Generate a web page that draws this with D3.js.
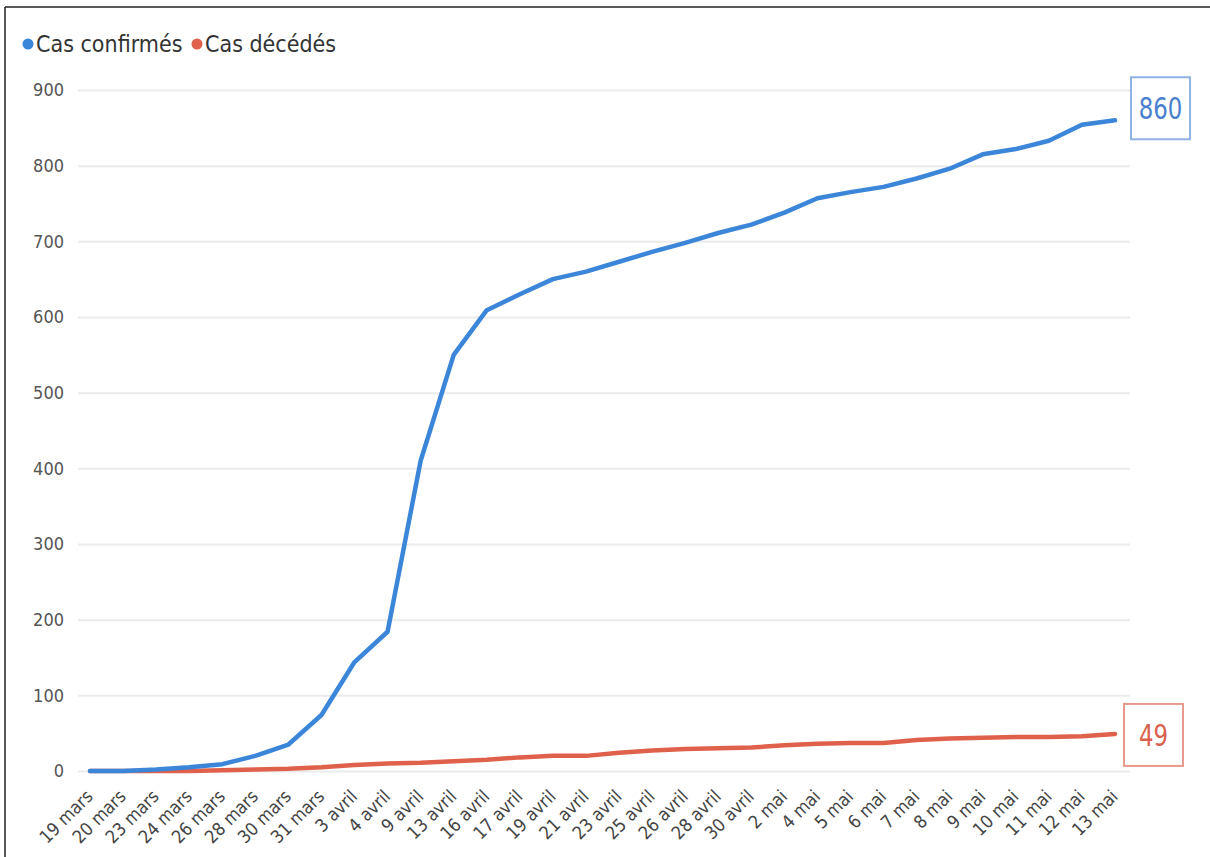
<!DOCTYPE html>
<html>
<head>
<meta charset="utf-8">
<script src="https://cdn.jsdelivr.net/npm/d3@7"></script>
<style>
  body { margin: 0; background: #fff; }
  svg text { font-family: "DejaVu Sans Condensed", "DejaVu Sans", sans-serif; font-stretch: condensed; }
</style>
</head>
<body>
<div id="chart"></div>
<script>
// dates on the x axis
var dates = ["19 mars", "20 mars", "23 mars", "24 mars", "26 mars", "28 mars", "30 mars", "31 mars",
    "3 avril", "4 avril", "9 avril", "13 avril", "16 avril", "17 avril", "19 avril", "21 avril",
    "23 avril", "25 avril", "26 avril", "28 avril", "30 avril", "2 mai", "4 mai", "5 mai",
    "6 mai", "7 mai", "8 mai", "9 mai", "10 mai", "11 mai", "12 mai", "13 mai"];

// cumulative confirmed cases
var confirmes = [0, 0, 2, 5, 9, 20, 35, 74, 144, 184, 410, 550, 609, 630, 650, 660,
    673, 686, 698, 711, 722, 738, 757, 765, 772, 783, 796, 815, 822, 833, 854, 860];

// cumulative deaths
var deces = [0, 0, 0, 0, 1, 2, 3, 5, 8, 10, 11, 13, 15, 18, 20, 20,
    24, 27, 29, 30, 31, 34, 36, 37, 37, 41, 43, 44, 45, 45, 46, 49];

var yTicks = [0, 100, 200, 300, 400, 500, 600, 700, 800, 900];

var W = 1210, H = 857;
var blue = "#3b86d9", red = "#e0614b";

var svg = d3.select("#chart")
    .append("svg")
    .attr("width", W)
    .attr("height", H);

// frame (top and left edges only)
svg.append("line").attr("x1", 5).attr("x2", W).attr("y1", 7).attr("y2", 7)
    .attr("stroke", "#222").attr("stroke-width", 1.5);
svg.append("line").attr("x1", 5).attr("x2", 5).attr("y1", 7).attr("y2", H)
    .attr("stroke", "#222").attr("stroke-width", 1.5);

var x = d3.scalePoint()
    .domain(dates)
    .range([90, 1115]);

var y = d3.scaleLinear()
    .domain([0, 900])
    .range([771, 90]);

// gridlines + y labels
var yAxis = svg.append("g")
    .attr("transform", "translate(78,0)")
    .call(d3.axisLeft(y).tickValues(yTicks).tickSize(-1052).tickPadding(14));
yAxis.select(".domain").remove();
yAxis.selectAll(".tick line").attr("stroke", "#ebebeb").attr("stroke-width", 2);
yAxis.selectAll(".tick text")
    .attr("fill", "#555")
    .style("font-size", "18px");

// x labels, rotated
var xAxis = svg.append("g")
    .attr("transform", "translate(0,771)")
    .call(d3.axisBottom(x).tickSize(0));
xAxis.select(".domain").remove();
xAxis.selectAll(".tick text")
    .attr("fill", "#444")
    .style("font-size", "18px")
    .style("text-anchor", "end")
    .attr("y", 0)
    .attr("transform", "translate(-1,22) rotate(-45)")
    .attr("dy", "0.35em");

var line = d3.line()
    .x((d, i) => x(dates[i]))
    .y(d => y(d));

svg.append("path")
    .datum(deces)
    .attr("fill", "none")
    .attr("stroke", red)
    .attr("stroke-width", 4.5)
    .attr("stroke-linejoin", "round")
    .attr("stroke-linecap", "round")
    .attr("d", line);

svg.append("path")
    .datum(confirmes)
    .attr("fill", "none")
    .attr("stroke", blue)
    .attr("stroke-width", 4.5)
    .attr("stroke-linejoin", "round")
    .attr("stroke-linecap", "round")
    .attr("d", line);

// last value boxes
function lastBox(vals, color, boxCol, bx, shift) {
    var v = vals[vals.length - 1];
    var cy = y(v) + shift;
    svg.append("rect")
        .attr("x", bx).attr("y", cy - 31)
        .attr("width", 59).attr("height", 62)
        .attr("fill", "#fff")
        .attr("stroke", boxCol)
        .attr("stroke-width", 2);
    svg.append("text")
        .attr("transform", `translate(${bx + 29.5},${cy}) scale(0.82,1)`)
        .attr("dy", "0.36em")
        .style("text-anchor", "middle")
        .style("font-size", "31px")
        .attr("fill", color)
        .text(v);
}
lastBox(confirmes, "#4a7fcf", "#8fb2e2", 1131, -12);
lastBox(deces, "#d9614d", "#e69a8c", 1124, 1);

// legend
var legend = [{name: "Cas confirmés", color: blue}, {name: "Cas décédés", color: red}];
var lx = [28, 197];
legend.forEach(function(l, i) {
    svg.append("circle").attr("cx", lx[i]).attr("cy", 44).attr("r", 5.5).attr("fill", l.color);
    svg.append("text")
        .attr("x", lx[i] + 8).attr("y", 44)
        .attr("dy", "0.36em")
        .style("font-size", "23px")
        .attr("fill", "#333")
        .text(l.name);
});
</script>
</body>
</html>
